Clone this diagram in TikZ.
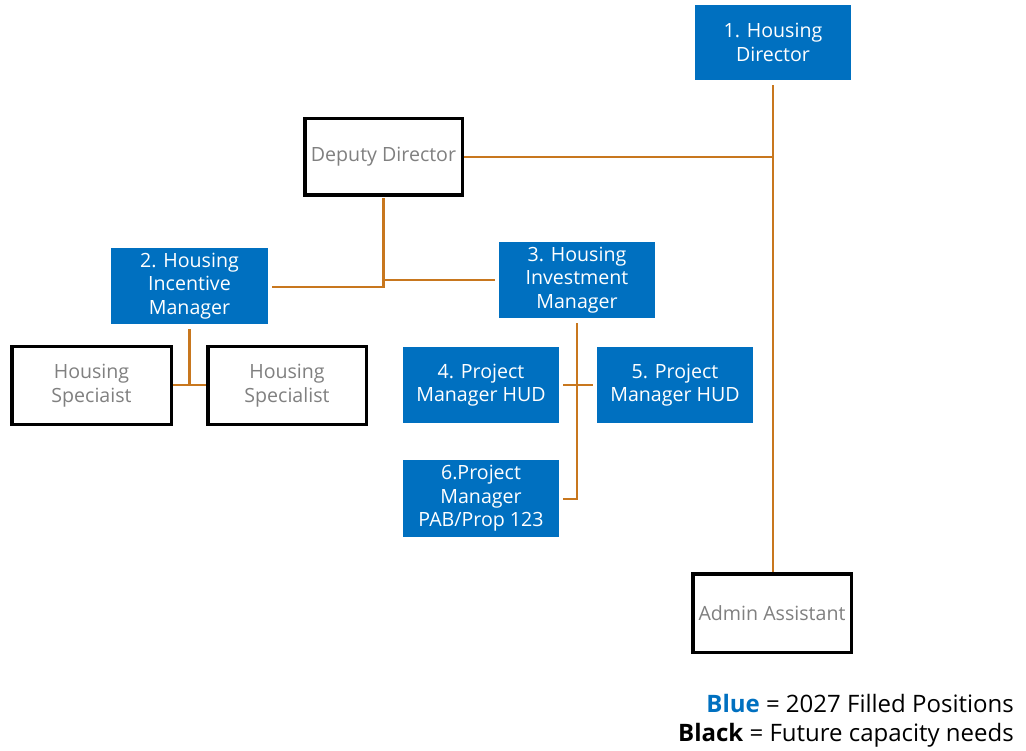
\documentclass[tikz,border=0pt]{standalone}
\usepackage{fontspec}
\setmainfont{Open Sans}
\definecolor{boxblue}{HTML}{0070C0}
\definecolor{linkor}{HTML}{C8771E}
\definecolor{txtgray}{HTML}{808080}
\begin{document}
\begin{tikzpicture}[x=1pt,y=1pt,
  filled/.style={fill=boxblue, text=white, inner sep=0pt, align=center,
    font=\fontsize{19.6}{23.5}\selectfont},
  future/.style={draw=black, line width=3.5pt, fill=white, text=txtgray, inner sep=0pt, align=center,
    font=\fontsize{19.6}{23.5}\selectfont},
  link/.style={draw=linkor, line width=2.4pt},
  legend/.style={anchor=east, inner sep=0pt, font=\fontsize{24}{28}\selectfont}]
\useasboundingbox (0,0) rectangle (1026,-751);
\node[filled, minimum width=156, minimum height=75] (dir) at (773,-42.5) {1. Housing\\Director};
\node[future, minimum width=157.5, minimum height=76.5] (dep) at (383.5,-157) {Deputy Director};
\node[filled, minimum width=157, minimum height=76] (inc) at (189.5,-286) {2. Housing\\Incentive\\Manager};
\node[filled, minimum width=156, minimum height=76] (inv) at (577,-280) {3. Housing\\Investment\\Manager};
\node[future, minimum width=159.5, minimum height=77.5] (hs1) at (91.5,-385.5) {Housing\\Speciaist};
\node[future, minimum width=158.5, minimum height=77.5] (hs2) at (287,-385.5) {Housing\\Specialist};
\node[filled, minimum width=156, minimum height=76] (pm4) at (481,-385) {4. Project\\Manager HUD};
\node[filled, minimum width=156, minimum height=76] (pm5) at (675,-385) {5. Project\\Manager HUD};
\node[filled, minimum width=156, minimum height=77] (pm6) at (481,-498.5) {6.Project\\Manager\\PAB/Prop 123};
\node[future, minimum width=158.5, minimum height=78.5] (adm) at (772,-613) {Admin Assistant};

\coordinate (dirS) at ([yshift=-5pt]dir.south);
\coordinate (admN) at (dirS |- adm.north);
\draw[link] (dirS) -- (admN);
\draw[link] (dep.east) -- (dirS |- dep.east);

\coordinate (depS) at ([yshift=-1pt]dep.south);
\coordinate (jL) at (depS |- 0,-287);
\coordinate (jR) at (depS |- 0,-280);
\draw[link] (depS) -- (jL) -- ([xshift=4pt]inc.east |- jL);
\draw[link] (jR) -- ([xshift=-4pt]inv.west |- jR);

\coordinate (incS) at ([yshift=-5pt]inc.south);
\coordinate (incJ) at (incS |- 0,-385);
\draw[link] (incS) -- (incJ);
\draw[link] (hs1.east |- incJ) -- (hs2.west |- incJ);

\coordinate (invS) at ([yshift=-5pt]inv.south);
\coordinate (invB) at (invS |- 0,-499);
\draw[link] (invS) -- (invB) -- ([xshift=4pt]pm6.east |- invB);
\draw[link] ([xshift=4pt]pm4.east |- 0,-385) -- ([xshift=-4pt]pm5.west |- 0,-385);

\node[legend] (leg1) at (1014,-703) {\textbf{\color{boxblue}Blue} = 2027 Filled Positions};
\node[legend] (leg2) at (1014,-735) {\textbf{Black} = Future capacity needs};
\end{tikzpicture}
\end{document}
